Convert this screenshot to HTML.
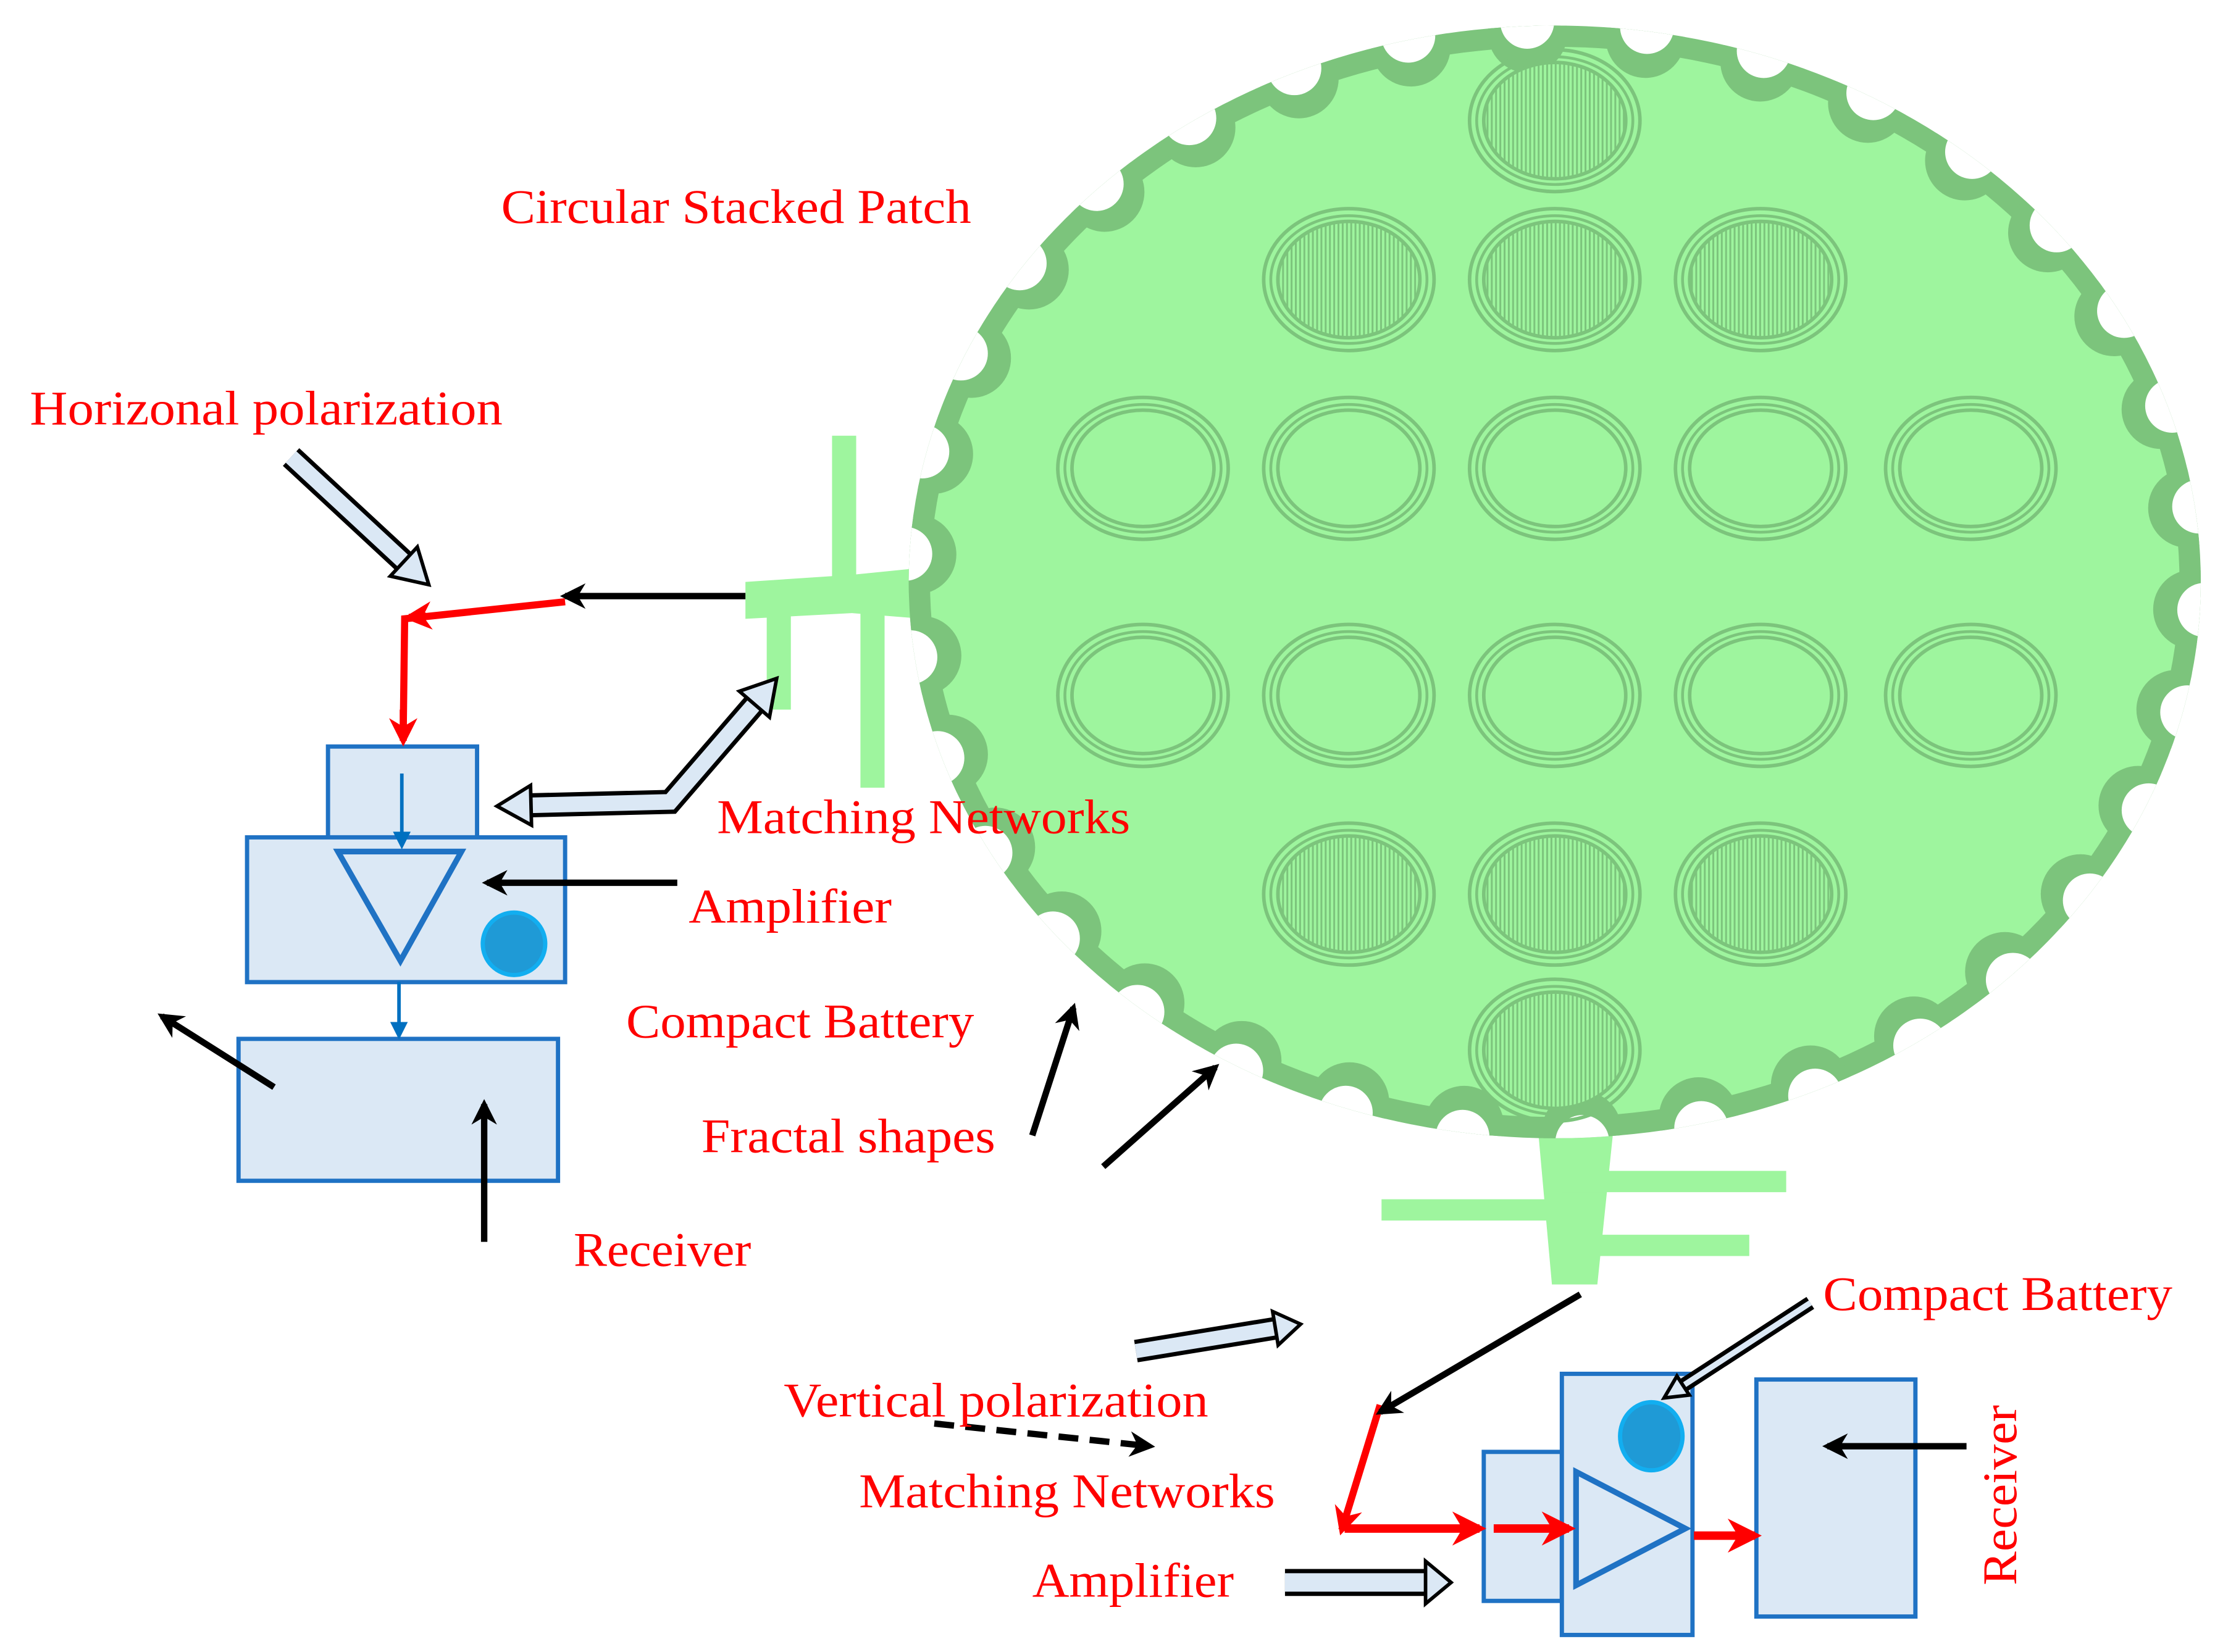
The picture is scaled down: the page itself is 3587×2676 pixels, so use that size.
<!DOCTYPE html>
<html><head><meta charset="utf-8"><style>
html,body{margin:0;padding:0;background:#fff;width:3587px;height:2676px;overflow:hidden}
svg{display:block}
text{font-family:"Liberation Serif",serif;fill:#ff0000;font-size:34px}
</style></head><body>
<svg id="s" width="3587" height="2676" viewBox="0 0 1560 1164" preserveAspectRatio="none" xmlns="http://www.w3.org/2000/svg">
<defs>
<marker id="ab" viewBox="0 0 10 10" refX="8" refY="5" markerWidth="4" markerHeight="4" orient="auto" markerUnits="strokeWidth"><path d="M0,0 L10,5 L0,10 L3,5z" fill="#000"/></marker>
<marker id="ar" viewBox="0 0 10 10" refX="8" refY="5" markerWidth="4" markerHeight="4" orient="auto" markerUnits="strokeWidth"><path d="M0,0 L10,5 L0,10 L3,5z" fill="#ff0000"/></marker>
<marker id="au" viewBox="0 0 10 10" refX="8" refY="5" markerWidth="5" markerHeight="5" orient="auto" markerUnits="strokeWidth"><path d="M0,0 L10,5 L0,10z" fill="#0070c0"/></marker>
<pattern id="hatch" width="3" height="3" patternUnits="userSpaceOnUse"><rect width="3" height="3" fill="#9ef59e"/><rect width="1.3" height="3" fill="#7cc47c"/></pattern>
<clipPath id="cl"><ellipse cx="1095" cy="410" rx="455" ry="392"/></clipPath>
</defs>
<g id="patch">
<path d="M525,410 L600,405 L700,395 L700,440 L600,432 L525,436z" fill="#9ef59e"/>
<rect x="586" y="307" width="17" height="110" fill="#9ef59e"/>
<rect x="540" y="430" width="17" height="70" fill="#9ef59e"/>
<rect x="606" y="430" width="17" height="125" fill="#9ef59e"/>
<path d="M1080,760 L1140,760 L1125,905 L1093,905z" fill="#9ef59e"/>
<rect x="1100" y="825" width="158" height="15" fill="#9ef59e"/>
<rect x="973" y="845" width="127" height="15" fill="#9ef59e"/>
<rect x="1120" y="870" width="112" height="15" fill="#9ef59e"/>
<ellipse cx="1095" cy="410" rx="455" ry="392" fill="#7cc47c"/>
<ellipse cx="1095" cy="410" rx="440" ry="377" fill="#9ef59e"/>
<g id="notches" clip-path="url(#cl)"></g>
<g id="cells"></g>
</g>
<g stroke="#1f72c4" stroke-width="3" fill="#dbe8f5">
<rect x="231" y="526" width="105" height="64"/>
<rect x="174" y="590" width="224" height="102"/>
<rect x="168" y="732" width="225" height="100"/>
<polygon points="238,600 325,600 282,677" fill="none" stroke-width="4"/>
<rect x="1045" y="1023" width="55" height="105"/>
<rect x="1100" y="968" width="92" height="184"/>
<rect x="1237" y="972" width="112" height="167"/>
<polygon points="1110,1037 1110,1117 1187,1077" fill="none" stroke-width="4"/>
</g>
<circle cx="362" cy="665" r="22" fill="#1f9ad6" stroke="#12aef0" stroke-width="3"/>
<ellipse cx="1163" cy="1012" rx="22" ry="24" fill="#1f9ad6" stroke="#12aef0" stroke-width="3"/>
<line x1="283" y1="545" x2="283" y2="596" stroke="#0070c0" stroke-width="2.5" marker-end="url(#au)"/>
<line x1="281" y1="692" x2="281" y2="730" stroke="#0070c0" stroke-width="2.5" marker-end="url(#au)"/>
<polyline points="398,424 285,436 284,515" fill="none" stroke="#ff0000" stroke-width="5"/>
<line x1="300" y1="434" x2="288" y2="435" stroke="#ff0000" stroke-width="5" marker-end="url(#ar)"/>
<line x1="284" y1="500" x2="284" y2="522" stroke="#ff0000" stroke-width="5" marker-end="url(#ar)"/>
<line x1="972" y1="990" x2="945" y2="1078" stroke="#ff0000" stroke-width="5" marker-end="url(#ar)"/>
<line x1="947" y1="1077" x2="1042" y2="1077" stroke="#ff0000" stroke-width="6" marker-end="url(#ar)"/>
<line x1="1052" y1="1077" x2="1105" y2="1077" stroke="#ff0000" stroke-width="6" marker-end="url(#ar)"/>
<line x1="1193" y1="1082" x2="1236" y2="1082" stroke="#ff0000" stroke-width="6" marker-end="url(#ar)"/>
<g stroke="#000" stroke-width="4.5" marker-end="url(#ab)">
<line x1="525" y1="420" x2="398" y2="420"/>
<line x1="477" y1="622" x2="343" y2="622"/>
<line x1="193" y1="766" x2="114" y2="716"/>
<line x1="341" y1="875" x2="341" y2="778"/>
<line x1="727" y1="800" x2="756" y2="710"/>
<line x1="777" y1="822" x2="856" y2="752"/>
<line x1="1385" y1="1019" x2="1287" y2="1019"/>
<line x1="1113" y1="912" x2="972" y2="995"/>
<line x1="658" y1="1003" x2="810" y2="1019" stroke-dasharray="14,8"/>
</g>
<g id="hollow"></g>
<text x="353" y="157" textLength="331" lengthAdjust="spacingAndGlyphs">Circular Stacked Patch</text>
<text x="21" y="299" textLength="333" lengthAdjust="spacingAndGlyphs">Horizonal polarization</text>
<text x="505" y="587" textLength="291" lengthAdjust="spacingAndGlyphs">Matching Networks</text>
<text x="485" y="650" textLength="143" lengthAdjust="spacingAndGlyphs">Amplifier</text>
<text x="441" y="731" textLength="245" lengthAdjust="spacingAndGlyphs">Compact Battery</text>
<text x="494" y="812" textLength="207" lengthAdjust="spacingAndGlyphs">Fractal shapes</text>
<text x="404" y="892" textLength="125" lengthAdjust="spacingAndGlyphs">Receiver</text>
<text x="1284" y="923" textLength="246" lengthAdjust="spacingAndGlyphs">Compact Battery</text>
<text x="552" y="998" textLength="299" lengthAdjust="spacingAndGlyphs">Vertical polarization</text>
<text x="605" y="1062" textLength="293" lengthAdjust="spacingAndGlyphs">Matching Networks</text>
<text x="727" y="1125" textLength="142" lengthAdjust="spacingAndGlyphs">Amplifier</text>
<text transform="translate(1420,1117) rotate(-90)" textLength="127" lengthAdjust="spacingAndGlyphs">Receiver</text>
</svg>
<script>
var NS="http://www.w3.org/2000/svg";
function el(p,t,a){var e=document.createElementNS(NS,t);for(var k in a)e.setAttribute(k,a[k]);p.appendChild(e);return e;}
var n=document.getElementById('notches');
var N=34;
for(var i=0;i<N;i++){var t=i/N*2*Math.PI+0.05;var x=1095+450*Math.cos(t),y=410+387*Math.sin(t);
 el(n,'circle',{cx:x,cy:y,r:28,fill:'#7cc47c'});}
for(var i=0;i<N;i++){var t=i/N*2*Math.PI+0.05;var x=1095+458*Math.cos(t),y=410+395*Math.sin(t);
 el(n,'circle',{cx:x,cy:y,r:19,fill:'#fff'});}
var c=document.getElementById('cells');
function cell(x,y,h){
 el(c,'ellipse',{cx:x,cy:y,rx:60,ry:50,fill:'none',stroke:'#7cc47c','stroke-width':2.5});
 el(c,'ellipse',{cx:x,cy:y,rx:55,ry:45,fill:'none',stroke:'#7cc47c','stroke-width':2});
 el(c,'ellipse',{cx:x,cy:y,rx:50,ry:41,fill:h?'url(#hatch)':'none',stroke:'#7cc47c','stroke-width':2.5});
}
[[1095,85],[950,197],[1095,197],[1240,197],[950,630],[1095,630],[1240,630],[1095,740]].forEach(function(a){cell(a[0],a[1],1)});
[805,950,1095,1240,1388].forEach(function(x){cell(x,330,0);cell(x,490,0)});
var h=document.getElementById('hollow');
function head(p,q,hw,hl){
 var dx=q[0]-p[0],dy=q[1]-p[1],L=Math.hypot(dx,dy),ux=dx/L,uy=dy/L,nx=-uy,ny=ux;
 var bx=q[0]-ux*hl,by=q[1]-uy*hl;
 el(h,'polygon',{points:[[bx+nx*hw,by+ny*hw],q,[bx-nx*hw,by-ny*hw]].map(function(p){return p.join(',')}).join(' '),fill:'#dbe8f5',stroke:'#000','stroke-width':2.5,'stroke-linejoin':'miter'});
}
function harrow(pts,w,hw,hl,both){
 var P=pts.map(function(p){return p.slice()});
 function back(a,b){var dx=b[0]-a[0],dy=b[1]-a[1],L=Math.hypot(dx,dy);return [b[0]-dx/L*hl,b[1]-dy/L*hl];}
 var e=back(P[P.length-2],P[P.length-1]);
 var s=both?back(P[1],P[0]):P[0];
 var body=[s].concat(P.slice(1,-1)).concat([e]);
 var d='M'+body.map(function(p){return p.join(',')}).join(' L');
 el(h,'path',{d:d,fill:'none',stroke:'#000','stroke-width':w+6,'stroke-linejoin':'miter'});
 el(h,'path',{d:d,fill:'none',stroke:'#dbe8f5','stroke-width':w,'stroke-linejoin':'miter'});
 head(P[P.length-2],P[P.length-1],hw,hl);
 if(both)head(P[1],P[0],hw,hl);
}
harrow([[205,322],[302,412]],11,14,24);
harrow([[547,478],[472,565],[350,568]],11,14,24,true);
harrow([[800,952],[916,933]],10,12,18);
harrow([[905,1115],[1022,1115]],13,15,18);
harrow([[1275,918],[1172,985]],4,8,16);
</script>
</body></html>
